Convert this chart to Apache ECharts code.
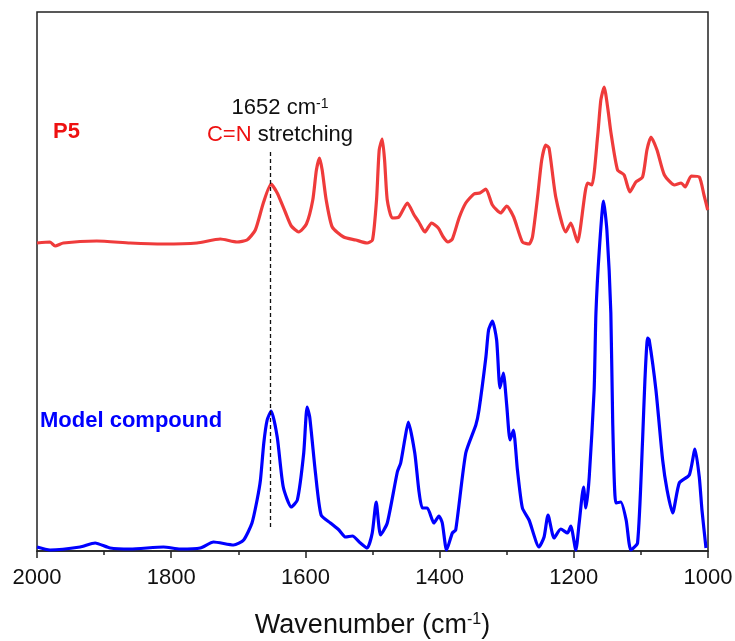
<!DOCTYPE html>
<html>
<head>
<meta charset="utf-8">
<script src="https://cdn.jsdelivr.net/npm/echarts@6/dist/echarts.min.js"></script>
<style>html,body{margin:0;padding:0;background:#fff}#c{width:735px;height:641px}</style>
</head>
<body>
<div id="c"></div>
<script>
// Wavenumber ticks
const xTicks = [2000, 1800, 1600, 1400, 1200, 1000];

// P5 spectrum (red) — wavenumber (cm-1) and relative absorbance (arb.)
const p5Wavenumbers = [2000,1980.6,1973,1960.7,1911,1861,1811.5,1761.6,1726.9,1702,1687,1674.6,1662.7,1651.2,1642,1630,1621,1610,1598.5,1589,1583.6,1579,1575,1569,1560,1543,1525,1508,1500,1494,1490,1485.5,1482,1478,1470.6,1460.7,1448,1438,1431,1422,1412,1402,1394.5,1387.6,1381,1371,1361,1348.8,1340,1331,1321.3,1309,1300,1289.6,1276.6,1266.7,1261.6,1254,1247.8,1241.8,1236.9,1226.9,1212,1204.5,1194.5,1179.6,1173,1164.6,1159.7,1154.8,1149,1144.8,1134.8,1125,1116.4,1107.5,1097.5,1091,1085,1076,1065,1050,1040,1034,1025,1013,1006,1000.4];
const p5Values = [308,309,305,308,310,308,307,308,312,309,311,321,348,367,358,339,325,319,327,351,381,393,381,351,324,314,311,308,311,351,401,412,391,351,333,334,348,336,329,319,328,323,314,309,312,333,348,357,358,362,346,338,345,334,309,307,314,354,391,406,403,354,319,328,309,368,366,414,451,464,441,419,381,376,359,369,374,401,414,401,376,366,368,364,375,374,356,341];

// Model compound spectrum (blue)
const modelWavenumbers = [2000,1980.6,1935.8,1913.4,1891,1861,1811.5,1786.6,1756.7,1736.9,1707,1692,1679.6,1672,1667,1662,1657,1651,1642,1633,1621,1612,1602.5,1597.5,1593.6,1585,1576.6,1562.7,1550,1540,1530,1518,1508,1500.4,1494.5,1488,1478,1463,1458,1452,1446.7,1437,1431,1425.8,1418.4,1408.5,1401,1396,1389.6,1381,1376,1361,1346,1341.3,1331,1327,1321.3,1315,1310,1305,1300,1295,1290,1284,1276.6,1266.7,1251.8,1244.3,1238.4,1229.4,1219.4,1209.4,1204.5,1197,1192,1185.5,1182,1177,1169.7,1167,1162,1155.7,1150.7,1144.8,1142,1137.3,1130,1122,1115,1105,1097.5,1094,1090,1087.6,1077.6,1067.6,1061,1052.7,1042.8,1027.9,1019.4,1013,1009,1003];
const modelValues = [4,1,4,8,3,2,4,2,3,9,6,11,28,51,71,108,131,140,114,64,44,51,98,144,134,78,36,28,21,14,15,8,3,18,49,16,28,79,88,111,129,98,61,43,43,28,35,28,1,18,21,98,126,141,194,221,230,211,163,178,146,111,121,81,43,31,4,14,36,13,22,18,25,1,28,64,43,74,161,238,301,350,321,238,128,48,49,31,1,8,111,171,213,211,161,91,61,38,68,76,102,74,41,3];

// Annotation: C=N stretching band position
const cnBand = 1652;
const cnLineRange = [24, 401];

function pairs(xs, ys) { return xs.map((x, i) => [x, ys[i]]); }

const FONT = "'Liberation Sans', Arial, sans-serif";
const chart = echarts.init(document.getElementById('c'), null, {renderer: 'canvas'});
chart.setOption({
  animation: false,
  backgroundColor: '#ffffff',
  grid: {left: 37, right: 27, top: 12, bottom: 90, show: true, borderColor: '#222', borderWidth: 1.5,
         backgroundColor: 'transparent', containLabel: false, outerBoundsMode: 'none'},
  xAxis: {
    type: 'value', inverse: true, min: xTicks[xTicks.length - 1], max: xTicks[0], interval: 200,
    axisLine: {show: true, onZero: false, lineStyle: {color: '#222', width: 1.5}},
    axisTick: {show: true, inside: false, length: 7, lineStyle: {color: '#222', width: 1.5}},
    minorTick: {show: true, splitNumber: 2, length: 4, lineStyle: {color: '#222', width: 1.5}},
    splitLine: {show: false},
    axisLabel: {fontSize: 22, color: '#111', fontFamily: FONT, margin: 16, formatter: v => String(v)},
    name: '{n|Wavenumber (cm}{s|-1}{n|)}',
    nameLocation: 'middle', nameGap: 61,
    nameTextStyle: {
      rich: {
        n: {fontSize: 27, color: '#111', fontFamily: FONT},
        s: {fontSize: 16, color: '#111', fontFamily: FONT, verticalAlign: 'top'}
      }
    }
  },
  yAxis: {type: 'value', min: 0, max: 539, show: false},
  series: [
    {
      name: 'P5', type: 'line', data: pairs(p5Wavenumbers, p5Values), showSymbol: false, smooth: 0.2,
      lineStyle: {color: '#ef3b3b', width: 3.2}, itemStyle: {color: '#ef3b3b'}
    },
    {
      name: 'Model compound', type: 'line', data: pairs(modelWavenumbers, modelValues), showSymbol: false, smooth: 0.2,
      lineStyle: {color: '#0000ff', width: 3.2}, itemStyle: {color: '#0000ff'},
      markLine: {
        silent: true, symbol: 'none', label: {show: false},
        lineStyle: {color: '#111', type: [4, 3], width: 1.3},
        data: [[{coord: [cnBand, cnLineRange[0]]}, {coord: [cnBand, cnLineRange[1]]}]]
      }
    }
  ],
  graphic: [
    {type: 'text', left: 53, top: 121, style: {text: 'P5', font: 'bold 22px ' + FONT, fill: '#ee1111'}},
    {type: 'text', left: 40, top: 410, style: {text: 'Model compound', font: 'bold 22px ' + FONT, fill: '#0000ff'}},
    {type: 'text', x: 280, y: 108, style: {
      text: '{a|1652 cm}{s|-1}', align: 'center', verticalAlign: 'middle',
      rich: {a: {font: '22px ' + FONT, fill: '#111'}, s: {font: '14px ' + FONT, fill: '#111', verticalAlign: 'top'}}
    }},
    {type: 'text', x: 280, y: 135, style: {
      text: '{r|C=N}{k| stretching}', align: 'center', verticalAlign: 'middle',
      rich: {r: {font: '22px ' + FONT, fill: '#ee1111'}, k: {font: '22px ' + FONT, fill: '#111'}}
    }}
  ]
});
</script>
</body>
</html>
